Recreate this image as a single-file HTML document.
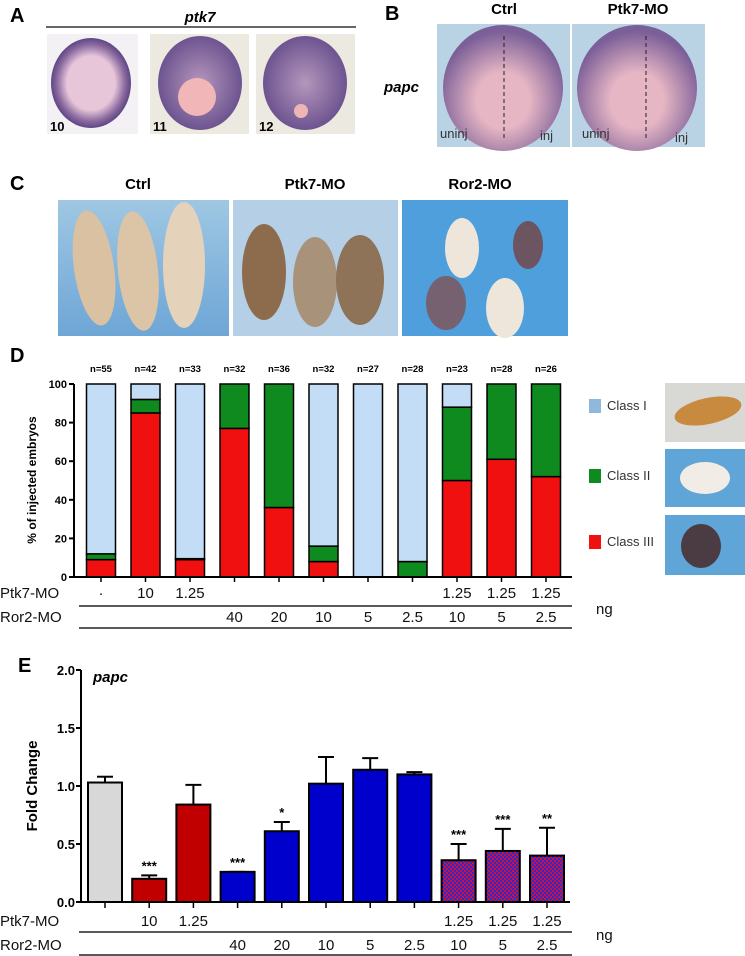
<!DOCTYPE html>
<html><head><meta charset="utf-8"><style>
body{margin:0;background:#fff;font-family:"Liberation Sans",sans-serif;}
svg{display:block}
</style></head><body>
<svg id="fig" width="745" height="956" viewBox="0 0 745 956" xmlns="http://www.w3.org/2000/svg">
<defs>
<radialGradient id="egg10" cx="50%" cy="50%" r="50%"><stop offset="0.6" stop-color="#e8c6da"/><stop offset="0.85" stop-color="#8b6aa0"/><stop offset="1" stop-color="#5e4684"/></radialGradient>
<radialGradient id="egg11" cx="50%" cy="50%" r="50%"><stop offset="0" stop-color="#b596bc"/><stop offset="1" stop-color="#6d5490"/></radialGradient>
<radialGradient id="eggB" cx="50%" cy="60%" r="55%"><stop offset="0.4" stop-color="#e7b6c4"/><stop offset="1" stop-color="#7b5f98"/></radialGradient>
<linearGradient id="blueBg" x1="0" y1="0" x2="0" y2="1"><stop offset="0" stop-color="#9fc7e3"/><stop offset="1" stop-color="#6ea6d6"/></linearGradient>
<pattern id="check" width="4" height="4" patternUnits="userSpaceOnUse"><rect width="4" height="4" fill="#d0103a"/><rect width="2" height="2" fill="#2a2ad0"/><rect x="2" y="2" width="2" height="2" fill="#2a2ad0"/></pattern>
</defs>

<!-- Panel A -->
<text x="10" y="22" font-size="20" font-weight="bold">A</text>
<text x="200" y="22" font-size="15" font-weight="bold" font-style="italic" text-anchor="middle">ptk7</text>
<line x1="46" y1="27" x2="356" y2="27" stroke="#333" stroke-width="1.5"/>
<g>
<rect x="47" y="34" width="91" height="100" fill="#f3f1f3"/>
<ellipse cx="91" cy="83" rx="40" ry="45" fill="url(#egg10)"/>
<text x="50" y="131" font-size="13" font-weight="bold">10</text>
<rect x="150" y="34" width="99" height="100" fill="#eceae0"/>
<ellipse cx="200" cy="83" rx="42" ry="47" fill="url(#egg11)"/>
<circle cx="197" cy="97" r="19" fill="#f1b7b8"/>
<text x="153" y="131" font-size="13" font-weight="bold">11</text>
<rect x="256" y="34" width="99" height="100" fill="#eceae0"/>
<ellipse cx="305" cy="83" rx="42" ry="47" fill="url(#egg11)"/>
<circle cx="301" cy="111" r="7" fill="#efb5b5"/>
<text x="259" y="131" font-size="13" font-weight="bold">12</text>
</g>

<!-- Panel B -->
<text x="385" y="20" font-size="20" font-weight="bold">B</text>
<text x="504" y="14" font-size="15" font-weight="bold" text-anchor="middle">Ctrl</text>
<text x="638" y="14" font-size="15" font-weight="bold" text-anchor="middle">Ptk7-MO</text>
<text x="384" y="92" font-size="15" font-weight="bold" font-style="italic">papc</text>
<g>
<rect x="437" y="24" width="133" height="123" fill="#b9d3e4"/>
<ellipse cx="503" cy="88" rx="60" ry="63" fill="url(#eggB)"/>
<line x1="504" y1="36" x2="504" y2="140" stroke="#222" stroke-dasharray="4,3"/>
<text x="440" y="138" font-size="13" fill="#333">uninj</text><text x="540" y="140" font-size="13" fill="#333">inj</text>
<rect x="572" y="24" width="133" height="123" fill="#b9d3e4"/>
<ellipse cx="637" cy="88" rx="60" ry="63" fill="url(#eggB)"/>
<line x1="646" y1="36" x2="646" y2="140" stroke="#222" stroke-dasharray="4,3"/>
<text x="582" y="138" font-size="13" fill="#333">uninj</text><text x="675" y="142" font-size="13" fill="#333">inj</text>
</g>

<!-- Panel C -->
<text x="10" y="190" font-size="20" font-weight="bold">C</text>
<text x="138" y="189" font-size="15" font-weight="bold" text-anchor="middle">Ctrl</text>
<text x="315" y="189" font-size="15" font-weight="bold" text-anchor="middle">Ptk7-MO</text>
<text x="480" y="189" font-size="15" font-weight="bold" text-anchor="middle">Ror2-MO</text>
<g>
<rect x="58" y="200" width="171" height="136" fill="url(#blueBg)"/>
<ellipse cx="94" cy="268" rx="20" ry="58" fill="#d9c1a2" transform="rotate(-8 94 268)"/>
<ellipse cx="138" cy="271" rx="20" ry="60" fill="#dcc5a6" transform="rotate(-6 138 271)"/>
<ellipse cx="184" cy="265" rx="21" ry="63" fill="#e4d2bb"/>
<rect x="233" y="200" width="165" height="136" fill="#b5d0e6"/>
<ellipse cx="264" cy="272" rx="22" ry="48" fill="#8c6c4c"/>
<ellipse cx="315" cy="282" rx="22" ry="45" fill="#a8927a"/>
<ellipse cx="360" cy="280" rx="24" ry="45" fill="#8e7358"/>
<rect x="402" y="200" width="166" height="136" fill="#4e9fdb"/>
<ellipse cx="462" cy="248" rx="17" ry="30" fill="#eee6da"/>
<ellipse cx="528" cy="245" rx="15" ry="24" fill="#6c5460"/>
<ellipse cx="446" cy="303" rx="20" ry="27" fill="#766170"/>
<ellipse cx="505" cy="308" rx="19" ry="30" fill="#eee6da"/>
</g>

<!-- Panel D -->
<text x="10" y="362" font-size="20" font-weight="bold">D</text>
<g id="chartD"></g>
<g>
<rect x="589" y="399" width="12" height="14" fill="#8fb8dc"/><text x="607" y="410" font-size="13" fill="#333">Class I</text>
<rect x="589" y="469" width="12" height="14" fill="#0f8a1e"/><text x="607" y="480" font-size="13" fill="#333">Class II</text>
<rect x="589" y="535" width="12" height="14" fill="#f01010"/><text x="607" y="546" font-size="13" fill="#333">Class III</text>
<rect x="665" y="383" width="80" height="59" fill="#d8d8d4"/><ellipse cx="708" cy="411" rx="34" ry="13" fill="#c88a3e" transform="rotate(-12 708 411)"/>
<rect x="665" y="449" width="80" height="58" fill="#5fa5d8"/><ellipse cx="705" cy="478" rx="25" ry="16" fill="#f1ede6"/>
<rect x="665" y="515" width="80" height="60" fill="#5fa5d8"/><ellipse cx="701" cy="546" rx="20" ry="22" fill="#4a3c42"/>
</g>

<!-- Panel E -->
<text x="18" y="672" font-size="20" font-weight="bold">E</text>
<text x="93" y="682" font-size="15" font-weight="bold" font-style="italic">papc</text>
<g id="chartE"></g>
</svg>
<script>
// Panel D data
const dN = ["n=55","n=42","n=33","n=32","n=36","n=32","n=27","n=28","n=23","n=28","n=26"];
const dClassIII = [9, 85, 9, 77, 36, 8, 0, 0, 50, 61, 52];
const dClassII = [3, 7, 0.5, 23, 64, 8, 0, 8, 38, 39, 48];
const dClassI = [88, 8, 90.5, 0, 0, 84, 100, 92, 12, 0, 0];
const dTicks = [0, 20, 40, 60, 80, 100];
// Panel E data
const eValues = [1.03, 0.2, 0.84, 0.26, 0.61, 1.02, 1.14, 1.1, 0.36, 0.44, 0.4];
const eErrors = [0.05, 0.03, 0.17, 0.0, 0.08, 0.23, 0.1, 0.02, 0.14, 0.19, 0.24];
const eStars = ["", "***", "", "***", "*", "", "", "", "***", "***", "**"];
const eTicks = [0.0, 0.5, 1.0, 1.5, 2.0];
const eFills = ["#d8d8d8","#c00000","#c00000","#0000cc","#0000cc","#0000cc","#0000cc","#0000cc","url(#check)","url(#check)","url(#check)"];
// conditions
const ptk7DosesD = ["·","10","1.25","","","","","","1.25","1.25","1.25"];
const ptk7DosesE = ["","10","1.25","","","","","","1.25","1.25","1.25"];
const ror2Doses = ["","","","40","20","10","5","2.5","10","5","2.5"];

const NS = "http://www.w3.org/2000/svg";
function mk(parent, tag, attrs, text){const e=document.createElementNS(NS,tag);for(const k in attrs)e.setAttribute(k,attrs[k]);if(text!==undefined)e.textContent=text;parent.appendChild(e);return e;}

function table(g, ptk, x0, x1, xc, yRow1, lineY1, yRow2, lineY2){
  let t=mk(g,"text",{x:0,y:yRow1,"font-size":15,fill:"#111"},"Ptk7-MO");
  
  
  t=mk(g,"text",{x:0,y:yRow2,"font-size":15,fill:"#111"},"Ror2-MO");
  
  
  mk(g,"line",{x1:x0,y1:lineY1,x2:x1,y2:lineY1,stroke:"#222","stroke-width":1.5});
  mk(g,"line",{x1:x0,y1:lineY2,x2:x1,y2:lineY2,stroke:"#222","stroke-width":1.5});
  mk(g,"text",{x:596,y:(lineY1+8),"font-size":15,fill:"#111"},"ng");
  for(let i=0;i<ptk.length;i++){
    t=mk(g,"text",{x:xc(i),y:yRow1,"font-size":15,"text-anchor":"middle",fill:"#111"},ptk[i]);
    
    
    t=mk(g,"text",{x:xc(i),y:yRow2,"font-size":15,"text-anchor":"middle",fill:"#111"},ror2Doses[i]);
    
    
  }
}

// Chart D
(function(){
  const g=document.getElementById("chartD");
  const axX=74, y0=577, y100=384, xEnd=572;
  const xc=i=>101+i*44.5;
  const ys=v=>y0-(v/100)*(y0-y100);
  const bw=29;
  for(let i=0;i<dN.length;i++){
    const segs=[[dClassIII[i],"#f01010"],[dClassII[i],"#0f8a1e"],[dClassI[i],"#c2ddf5"]];
    let acc=0;
    for(const [v,c] of segs){
      if(v<=0) continue;
      const r=mk(g,"rect",{x:xc(i)-bw/2,y:ys(acc+v),width:bw,height:ys(acc)-ys(acc+v),fill:c,stroke:"#000","stroke-width":1.5});
      
      
      acc+=v;
    }
    const nt=mk(g,"text",{x:xc(i),y:372,"font-size":9.5,"font-weight":"bold","text-anchor":"middle"},dN[i]);
    
    
    mk(g,"line",{x1:xc(i),y1:y0,x2:xc(i),y2:y0+5,stroke:"#000","stroke-width":1.5});
  }
  mk(g,"line",{x1:axX,y1:y100,x2:axX,y2:y0,stroke:"#000","stroke-width":2});
  mk(g,"line",{x1:axX,y1:y0,x2:xEnd,y2:y0,stroke:"#000","stroke-width":2});
  for(const t of dTicks){
    mk(g,"line",{x1:axX-5,y1:ys(t),x2:axX,y2:ys(t),stroke:"#000","stroke-width":2});
    const tl=mk(g,"text",{x:axX-7,y:ys(t)+4,"font-size":11,"font-weight":"bold","text-anchor":"end"},t);
    
    
  }
  const yt=mk(g,"text",{x:0,y:0,"font-size":12,"font-weight":"bold","text-anchor":"middle",transform:"translate(36 480) rotate(-90)"},"% of injected embryos");
  
  
  table(g,ptk7DosesD,79,572,xc,598,606,622,628);
})();

// Chart E
(function(){
  const g=document.getElementById("chartE");
  const axX=81, y0=902, y2=670, xEnd=570;
  const xc=i=>105+i*44.2;
  const ys=v=>y0-(v/2)*(y0-y2);
  const bw=34;
  for(let i=0;i<eValues.length;i++){
    const top=ys(eValues[i]+eErrors[i]);
    mk(g,"line",{x1:xc(i),y1:ys(eValues[i]),x2:xc(i),y2:top,stroke:"#000","stroke-width":2});
    mk(g,"line",{x1:xc(i)-8,y1:top,x2:xc(i)+8,y2:top,stroke:"#000","stroke-width":2});
    const r=mk(g,"rect",{x:xc(i)-bw/2,y:ys(eValues[i]),width:bw,height:y0-ys(eValues[i]),fill:eFills[i],stroke:"#000","stroke-width":2});
    
    
    if(eStars[i]){
      const s=mk(g,"text",{x:xc(i),y:top-5,"font-size":13,"font-weight":"bold","text-anchor":"middle"},eStars[i]);
      
      
    }
    mk(g,"line",{x1:xc(i),y1:y0,x2:xc(i),y2:y0+6,stroke:"#000","stroke-width":1.5});
  }
  mk(g,"line",{x1:axX,y1:y2,x2:axX,y2:y0,stroke:"#000","stroke-width":2});
  mk(g,"line",{x1:axX,y1:y0,x2:xEnd,y2:y0,stroke:"#000","stroke-width":2});
  for(const t of eTicks){
    mk(g,"line",{x1:axX-5,y1:ys(t),x2:axX,y2:ys(t),stroke:"#000","stroke-width":2});
    const tl=mk(g,"text",{x:axX-6,y:ys(t)+5,"font-size":13,"font-weight":"bold","text-anchor":"end"},t.toFixed(1));
    
    
  }
  const yt=mk(g,"text",{x:0,y:0,"font-size":15,"font-weight":"bold","text-anchor":"middle",transform:"translate(37 786) rotate(-90)"},"Fold Change");
  
  
  table(g,ptk7DosesE,79,572,xc,926,932,950,955);
})();
</script>
</body></html>
